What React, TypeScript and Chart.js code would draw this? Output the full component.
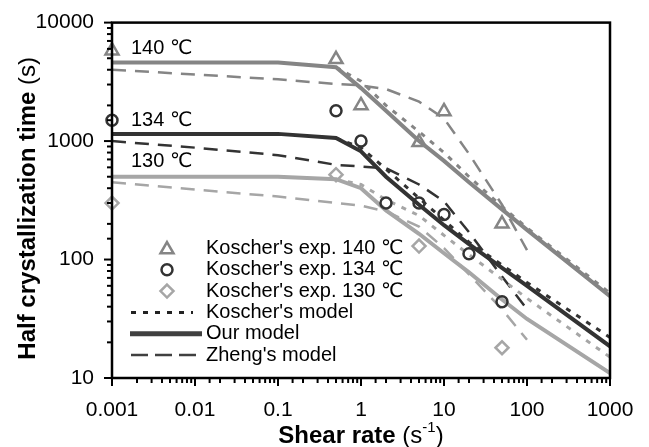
import React, { useEffect, useRef } from 'react';
import { Chart, registerables } from 'chart.js';

Chart.register(...registerables);

const FONT = '"Liberation Sans", Arial, Helvetica, "DejaVu Sans", sans-serif';

// ---- tick labels ----
const xTickLabels = ['0.001', '0.01', '0.1', '1', '10', '100', '1000'];
const yTickLabels = ['10', '100', '1000', '10000'];

// ---- colours per temperature ----
const c140 = '#858585';
const c134 = '#333333';
const c130 = '#a6a6a6';

// ---- Koscher's experiments ----
const exp140X = [0.001, 0.5, 1, 5, 10, 50];
const exp140Y = [5800, 4900, 2000, 975, 1780, 200];
const exp134X = [0.001, 0.5, 1, 2, 5, 10, 20, 50];
const exp134Y = [1500, 1800, 1000, 300, 300, 240, 112, 44];
const exp130X = [0.001, 0.5, 5, 50];
const exp130Y = [300, 520, 130, 18];

// ---- Our model ----
const oursX = [0.001, 0.1, 0.5, 1, 2, 5, 10, 20, 50, 100, 1000];
const ours140 = [4600, 4600, 4200, 2800, 1800, 1000, 680, 450, 265, 178, 49];
const ours134 = [1150, 1150, 1060, 820, 500, 290, 195, 135, 85, 60, 18.5];
const ours130 = [500, 500, 477, 400, 260, 165, 113, 78, 46, 31.5, 11];

// ---- Zheng's model ----
const zhengX = [0.001, 0.01, 0.1, 0.5, 1, 2, 5, 10, 20, 50, 100];
const zheng140 = [4000, 3650, 3320, 3030, 2950, 2750, 2150, 1550, 780, 290, 120];
const zheng134 = [1000, 880, 760, 630, 610, 590, 430, 310, 170, 72, 38];
const zheng130 = [450, 390, 340, 300, 285, 255, 190, 125, 75, 38, 21];

// ---- Koscher's model ----
const koscX = [0.5, 1, 2, 5, 10, 20, 50, 100, 1000];
const kosc140 = [4200, 3200, 2000, 1200, 800, 500, 280, 185, 52];
const kosc134 = [1060, 880, 580, 330, 215, 140, 90, 64, 22];
const kosc130 = [477, 430, 320, 235, 160, 110, 68, 47, 15];

// ---- temperature annotations (data coords) ----
const annoText = ['140 \u2103', '134 \u2103', '130 \u2103'];
const annoY = [6070, 1500, 668];

// ---- legend ----
const legendLabels = [
  "Koscher's exp. 140 \u2103",
  "Koscher's exp. 134 \u2103",
  "Koscher's exp. 130 \u2103",
  "Koscher's model",
  'Our model',
  "Zheng's model",
];

const pts = (xs: number[], ys: number[]) => xs.map((x, i) => ({ x, y: ys[i] }));
const isPow10 = (v: number) => {
  const l = Math.log10(v);
  return Math.abs(l - Math.round(l)) < 1e-6;
};

const markerDs = (label: string, xs: number[], ys: number[], color: string, style: any, r: number) => ({
  label,
  data: pts(xs, ys),
  showLine: false,
  pointStyle: style,
  pointRadius: r,
  pointBorderWidth: 2.5,
  pointBorderColor: color,
  pointBackgroundColor: 'rgba(0,0,0,0)',
  clip: false as any,
});

const lineDs = (label: string, xs: number[], ys: number[], color: string, width: number, dash: number[]) => ({
  label,
  data: pts(xs, ys),
  borderColor: color,
  borderWidth: width,
  borderDash: dash,
  pointRadius: 0,
  tension: 0,
  fill: false,
});

function drawTriangle(ctx: CanvasRenderingContext2D, x: number, y: number, r: number) {
  ctx.beginPath();
  for (let i = 0; i < 3; i++) {
    const a = (i * 2 * Math.PI) / 3;
    const px = x + Math.sin(a) * r;
    const py = y - Math.cos(a) * r;
    if (i === 0) ctx.moveTo(px, py);
    else ctx.lineTo(px, py);
  }
  ctx.closePath();
  ctx.stroke();
}

const decorPlugin = {
  id: 'decor',
  afterDraw(chart: any) {
    const { ctx, chartArea: a, scales } = chart;
    const xs = scales.x;
    const ys = scales.y;
    ctx.save();

    // ticks
    ctx.strokeStyle = '#000';
    ctx.lineWidth = 2;
    ys.ticks.forEach((t: any) => {
      const y = ys.getPixelForValue(t.value);
      const len = isPow10(t.value) ? 8 : 5;
      ctx.beginPath();
      ctx.moveTo(a.left - len, y);
      ctx.lineTo(a.left, y);
      ctx.stroke();
    });
    xs.ticks.forEach((t: any) => {
      const x = xs.getPixelForValue(t.value);
      const len = isPow10(t.value) ? 8 : 5;
      ctx.beginPath();
      ctx.moveTo(x, a.bottom);
      ctx.lineTo(x, a.bottom + len);
      ctx.stroke();
    });

    // box
    ctx.lineWidth = 2.5;
    ctx.strokeRect(a.left, a.top, a.right - a.left, a.bottom - a.top);

    // annotations
    ctx.fillStyle = '#000';
    ctx.font = `20px ${FONT}`;
    ctx.textBaseline = 'middle';
    ctx.textAlign = 'left';
    annoText.forEach((txt, i) => {
      ctx.fillText(txt, xs.getPixelForValue(0.001) + 19, ys.getPixelForValue(annoY[i]));
    });

    // legend
    const lx = a.left + 55;
    const tx = a.left + 94;
    const ly0 = 248.5;
    const dy = 21.3;
    ctx.font = `20px ${FONT}`;
    legendLabels.forEach((txt, i) => {
      ctx.fillStyle = '#000';
      ctx.fillText(txt, tx, ly0 + i * dy);
    });
    // markers
    ctx.lineWidth = 2.5;
    ctx.strokeStyle = c140;
    drawTriangle(ctx, lx, ly0 + 1, 7.5);
    ctx.strokeStyle = c134;
    ctx.beginPath();
    ctx.arc(lx, ly0 + dy, 5.5, 0, Math.PI * 2);
    ctx.stroke();
    ctx.strokeStyle = c130;
    ctx.beginPath();
    const yd = ly0 + 2 * dy;
    ctx.moveTo(lx, yd - 6.5);
    ctx.lineTo(lx + 6.5, yd);
    ctx.lineTo(lx, yd + 6.5);
    ctx.lineTo(lx - 6.5, yd);
    ctx.closePath();
    ctx.stroke();
    // line samples
    const s0 = a.left + 19;
    ctx.strokeStyle = '#222';
    ctx.lineWidth = 3;
    ctx.setLineDash([5, 7]);
    ctx.beginPath();
    ctx.moveTo(s0, ly0 + 3 * dy);
    ctx.lineTo(s0 + 62, ly0 + 3 * dy);
    ctx.stroke();
    ctx.setLineDash([]);
    ctx.strokeStyle = '#404040';
    ctx.lineWidth = 5;
    ctx.beginPath();
    ctx.moveTo(s0 - 1, ly0 + 4 * dy);
    ctx.lineTo(s0 + 71, ly0 + 4 * dy);
    ctx.stroke();
    ctx.lineWidth = 2.5;
    ctx.setLineDash([17, 7]);
    ctx.beginPath();
    ctx.moveTo(s0, ly0 + 5 * dy);
    ctx.lineTo(s0 + 69, ly0 + 5 * dy);
    ctx.stroke();
    ctx.setLineDash([]);

    // x title
    ctx.fillStyle = '#000';
    ctx.textBaseline = 'alphabetic';
    const bold = `bold 24px ${FONT}`;
    const norm = `24px ${FONT}`;
    const sup = `15px ${FONT}`;
    ctx.font = bold;
    const w1 = ctx.measureText('Shear rate').width;
    ctx.font = norm;
    const w2 = ctx.measureText(' (s').width;
    ctx.font = sup;
    const w3 = ctx.measureText('-1').width;
    ctx.font = norm;
    const w4 = ctx.measureText(')').width;
    const cx = (a.left + a.right) / 2;
    let x0 = cx - (w1 + w2 + w3 + w4) / 2;
    const by = 443;
    ctx.font = bold;
    ctx.fillText('Shear rate', x0, by);
    x0 += w1;
    ctx.font = norm;
    ctx.fillText(' (s', x0, by);
    x0 += w2;
    ctx.font = sup;
    ctx.fillText('-1', x0, by - 11);
    x0 += w3;
    ctx.font = norm;
    ctx.fillText(')', x0, by);

    // y title
    ctx.save();
    const cy = (a.top + a.bottom) / 2 + 8;
    ctx.translate(35, cy);
    ctx.rotate(-Math.PI / 2);
    ctx.font = bold;
    const v1 = ctx.measureText('Half crystallization time').width;
    ctx.font = norm;
    const v2 = ctx.measureText(' (s)').width;
    const y0 = -(v1 + v2) / 2;
    ctx.font = bold;
    ctx.fillText('Half crystallization time', y0, 0);
    ctx.font = norm;
    ctx.fillText(' (s)', y0 + v1, 0);
    ctx.restore();

    ctx.restore();
  },
};

export default function App() {
  const ref = useRef<HTMLCanvasElement | null>(null);

  useEffect(() => {
    document.body.style.margin = '0';
    const canvas = ref.current;
    if (!canvas) return;
    const datasets: any[] = [
      markerDs('exp140', exp140X, exp140Y, c140, 'triangle', 7.5),
      markerDs('exp134', exp134X, exp134Y, c134, 'circle', 5.5),
      markerDs('exp130', exp130X, exp130Y, c130, 'rectRot', 6.5),
      lineDs('kosc140', koscX, kosc140, c140, 3, [5, 7]),
      lineDs('kosc134', koscX, kosc134, c134, 3, [5, 7]),
      lineDs('kosc130', koscX, kosc130, c130, 3, [5, 7]),
      lineDs('ours140', oursX, ours140, c140, 4, []),
      lineDs('ours134', oursX, ours134, c134, 4, []),
      lineDs('ours130', oursX, ours130, c130, 4, []),
      lineDs('zheng140', zhengX, zheng140, c140, 2.5, [14, 9]),
      lineDs('zheng134', zhengX, zheng134, c134, 2.5, [14, 9]),
      lineDs('zheng130', zhengX, zheng130, c130, 2.5, [14, 9]),
    ];
    const chart = new Chart(canvas, {
      type: 'line',
      data: { datasets },
      plugins: [decorPlugin],
      options: {
        animation: false,
        responsive: false,
        devicePixelRatio: 1,
        layout: { padding: { top: 18, right: 39, left: 0, bottom: 0 } },
        plugins: { legend: { display: false }, tooltip: { enabled: false } },
        events: [],
        scales: {
          x: {
            type: 'logarithmic',
            min: 0.001,
            max: 1000,
            afterFit: (s: any) => {
              s.height = 69;
            },
            grid: { display: true, drawOnChartArea: false, drawTicks: true, tickLength: 8, color: 'rgba(0,0,0,0)' },
            border: { display: false },
            ticks: {
              autoSkip: false,
              maxRotation: 0,
              minRotation: 0,
              padding: 12,
              color: '#000',
              font: { family: FONT, size: 21 },
              callback: (v: any) => {
                const n = Number(v);
                if (!isPow10(n)) return '';
                return xTickLabels[Math.round(Math.log10(n)) + 3];
              },
            },
          },
          y: {
            type: 'logarithmic',
            min: 10,
            max: 10000,
            afterFit: (s: any) => {
              s.width = 112;
            },
            grid: { display: true, drawOnChartArea: false, drawTicks: true, tickLength: 8, color: 'rgba(0,0,0,0)' },
            border: { display: false },
            ticks: {
              autoSkip: false,
              padding: 10,
              color: '#000',
              font: { family: FONT, size: 21 },
              callback: (v: any) => {
                const n = Number(v);
                if (!isPow10(n)) return '';
                return yTickLabels[Math.round(Math.log10(n)) - 1];
              },
            },
          },
        },
      } as any,
    });
    return () => chart.destroy();
  }, []);

  return (
    <canvas ref={ref} width={649} height={447} style={{ display: 'block', width: 649, height: 447 }} />
  );
}
